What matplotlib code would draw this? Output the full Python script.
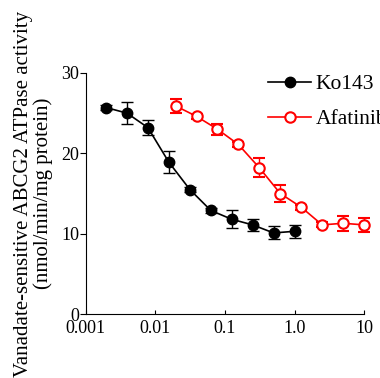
import numpy as np
import matplotlib.pyplot as plt

plt.rcParams["font.family"] = ["Liberation Serif", "DejaVu Serif"]

# Ko143 (uM), two-fold dilutions
ko143_conc = [0.00195, 0.0039, 0.0078, 0.0156, 0.03125, 0.0625, 0.125, 0.25, 0.5, 1.0]
ko143_act = [25.7, 25.0, 23.2, 18.9, 15.5, 12.9, 11.8, 11.1, 10.1, 10.3]
ko143_err = [0.3, 1.35, 0.95, 1.35, 0.3, 0.3, 1.1, 0.75, 0.8, 0.8]

# Afatinib (uM)
afa_conc = [0.0195, 0.039, 0.078, 0.156, 0.3125, 0.625, 1.25, 2.5, 5.0, 10.0]
afa_act = [25.9, 24.6, 23.0, 21.1, 18.2, 15.0, 13.3, 11.1, 11.3, 11.1]
afa_err = [0.85, 0.3, 0.7, 0.3, 1.2, 1.1, 0.3, 0.3, 0.9, 0.9]

x_ticks = [0.001, 0.01, 0.1, 1.0, 10]
x_labels = ["0.001", "0.01", "0.1", "1.0", "10"]
y_ticks = [0, 10, 20, 30]

fig = plt.figure(figsize=(3.8, 3.78), dpi=100)
ax = fig.add_axes([0.226, 0.169, 0.732, 0.638])

ax.errorbar(
    ko143_conc, ko143_act, yerr=ko143_err,
    color="black", marker="o", markersize=7.5,
    markerfacecolor="black", linewidth=1.2,
    elinewidth=1.0, capsize=4, capthick=1.0,
    label="Ko143", clip_on=False
)

ax.errorbar(
    afa_conc, afa_act, yerr=afa_err,
    color="#ff0000", marker="o", markersize=7.5,
    markerfacecolor="white", markeredgewidth=1.5,
    linewidth=1.2, elinewidth=1.0, capsize=4, capthick=1.0,
    label="Afatinib", clip_on=False
)

ax.set_xscale("log")
ax.set_xlim(0.001, 10)
ax.set_ylim(0, 30)
ax.set_xticks(x_ticks)
ax.set_xticklabels(x_labels)
ax.minorticks_off()
ax.set_yticks(y_ticks)

ax.spines["top"].set_visible(False)
ax.spines["right"].set_visible(False)
ax.tick_params(axis="x", direction="in", length=3, labelsize=13, pad=4)
ax.tick_params(axis="y", direction="out", length=4, labelsize=13, pad=1)

ax.set_ylabel(
    "Vanadate-sensitive ABCG2 ATPase activity\n(nmol/min/mg protein)",
    fontsize=15, linespacing=1.0, labelpad=6
)

handles, labels = ax.get_legend_handles_labels()
handles = [h[0] for h in handles]
fig.legend(
    handles, labels,
    loc="upper left", bbox_to_anchor=(0.655, 0.855),
    frameon=False, fontsize=15.5,
    handlelength=2.0, handletextpad=0.2, labelspacing=0.7
)

fig.savefig("out.png", dpi=100)
